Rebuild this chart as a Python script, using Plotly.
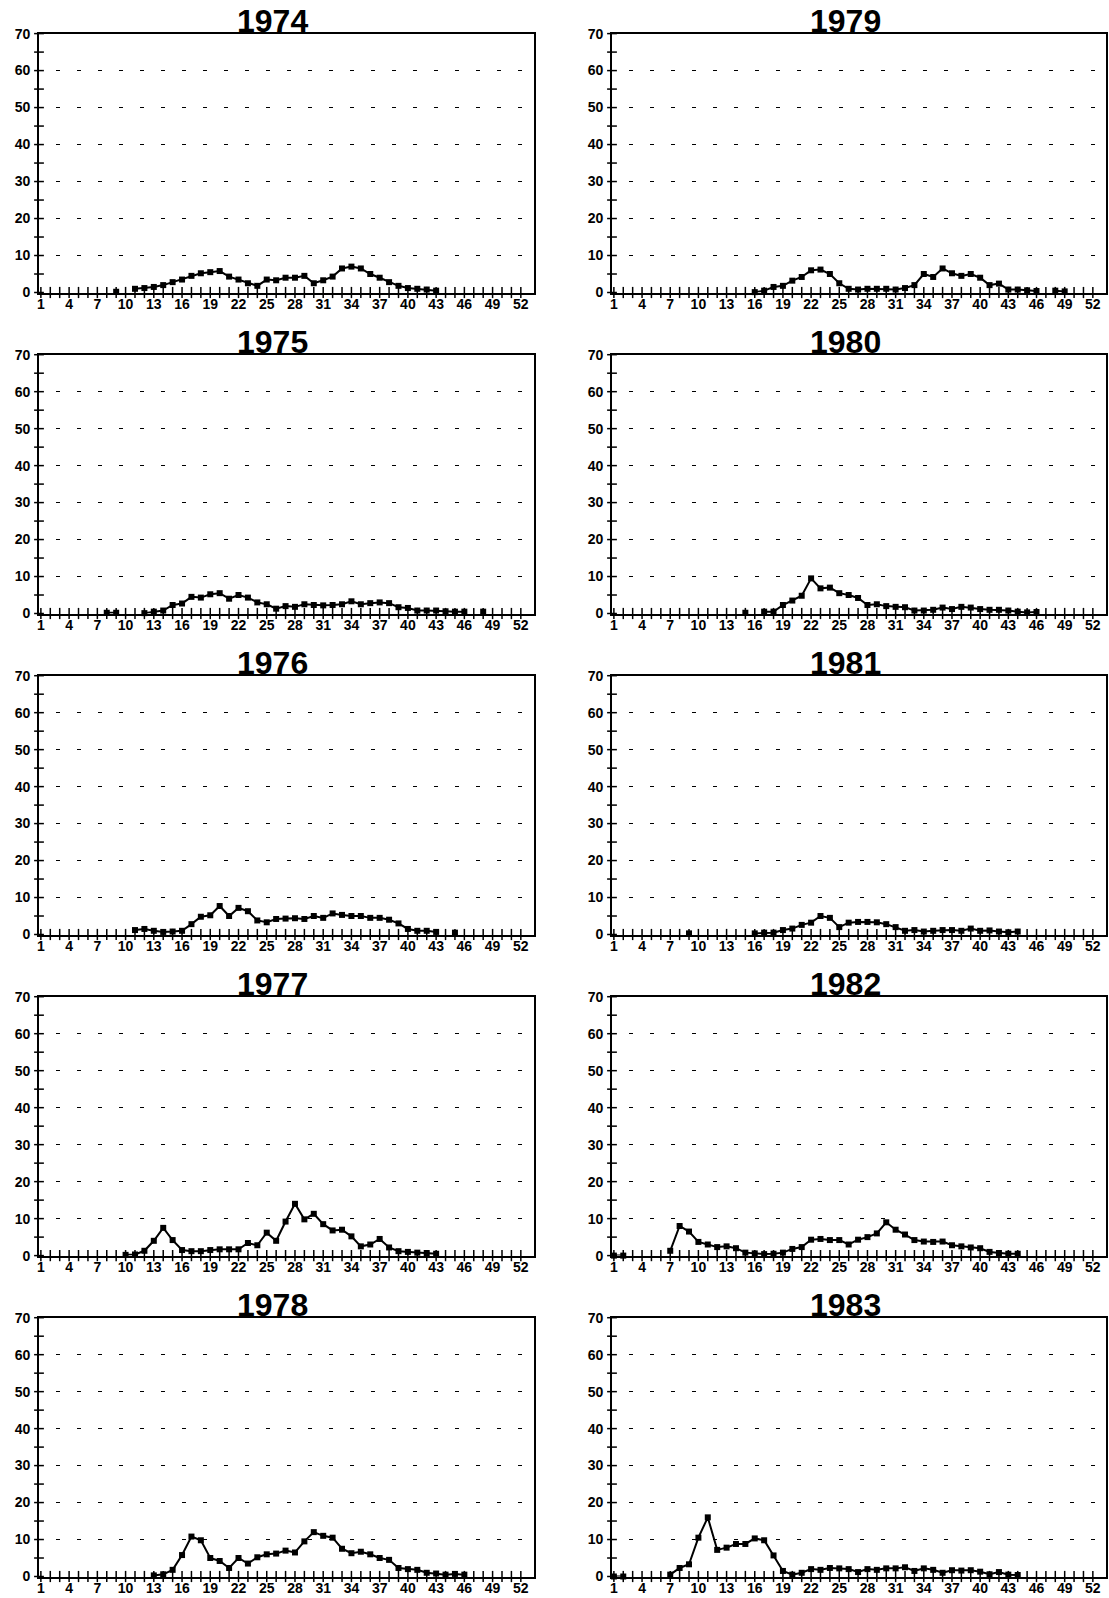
import plotly.graph_objects as go

# ---------------- data (weekly values, None = no observation) ----------------
years_left = ["1974", "1975", "1976", "1977", "1978"]
years_right = ["1979", "1980", "1981", "1982", "1983"]

start_1974 = 9
vals_1974 = [0.2, None, 1.0, 1.2, 1.5, 2.0, 2.8, 3.5, 4.5, 5.2, 5.5, 5.8, 4.3, 3.5, 2.5, 1.8,
             3.5, 3.3, 4.0, 4.0, 4.5, 2.5, 3.3, 4.3, 6.5, 7.0, 6.5, 5.0, 4.0, 2.8, 1.8, 1.2,
             1.0, 0.8, 0.5]

start_1975 = 8
vals_1975 = [0.2, 0.2, None, None, 0.1, 0.5, 0.8, 2.3, 2.7, 4.5, 4.3, 5.2, 5.5, 4.0, 5.0, 4.3,
             3.0, 2.5, 1.3, 2.0, 1.8, 2.5, 2.3, 2.2, 2.3, 2.5, 3.3, 2.5, 2.8, 3.0, 2.8, 1.7,
             1.5, 0.8, 0.8, 0.8, 0.6, 0.5, 0.5, None, 0.5]

start_1976 = 11
vals_1976 = [1.2, 1.5, 1.0, 0.7, 0.8, 1.0, 2.8, 4.8, 5.2, 7.7, 5.0, 7.2, 6.3, 3.8, 3.3, 4.2,
             4.3, 4.4, 4.2, 5.0, 4.5, 5.7, 5.3, 5.0, 5.0, 4.5, 4.5, 4.0, 3.0, 1.5, 1.0, 1.0,
             0.7, None, 0.5]

start_1977 = 10
vals_1977 = [0.2, 0.3, 1.3, 4.0, 7.5, 4.2, 1.5, 1.2, 1.2, 1.5, 1.7, 1.7, 1.7, 3.4, 2.8, 6.2,
             4.0, 9.2, 14.0, 9.8, 11.3, 8.5, 6.8, 7.0, 5.2, 2.5, 3.0, 4.5, 2.2, 1.2, 1.0, 0.8,
             0.7, 0.5]

start_1978 = 13
vals_1978 = [0.3, 0.6, 1.8, 5.8, 10.8, 9.8, 5.0, 4.2, 2.3, 5.0, 3.5, 5.2, 6.0, 6.2, 7.0, 6.5,
             9.5, 12.0, 11.0, 10.5, 7.5, 6.3, 6.7, 6.0, 5.0, 4.5, 2.3, 2.0, 1.8, 1.0, 0.8, 0.5,
             0.7, 0.5]

start_1979 = 16
vals_1979 = [0.1, 0.5, 1.5, 1.8, 3.2, 4.2, 6.0, 6.2, 5.0, 2.5, 1.0, 0.8, 1.0, 1.0, 1.0, 0.8,
             1.2, 2.0, 5.0, 4.2, 6.5, 5.2, 4.5, 5.0, 4.0, 2.0, 2.4, 0.8, 0.8, 0.6, 0.4, None,
             0.5, 0.3]

start_1980 = 15
vals_1980 = [0.2, None, 0.5, 0.5, 2.3, 3.5, 4.8, 9.5, 6.8, 7.0, 5.5, 5.0, 4.2, 2.3, 2.5, 2.0,
             1.8, 1.7, 0.8, 0.8, 1.0, 1.6, 1.2, 1.8, 1.6, 1.2, 1.0, 1.0, 0.8, 0.5, 0.3, 0.4]

start_1981 = 9
vals_1981 = [0.3, None, None, None, None, None, None, 0.3, 0.5, 0.5, 1.2, 1.6, 2.6, 3.2, 5.0,
             4.5, 2.0, 3.2, 3.4, 3.4, 3.3, 2.8, 2.0, 1.0, 1.2, 0.8, 1.0, 1.2, 1.2, 1.0, 1.6,
             1.0, 1.1, 0.8, 0.6, 0.8]

start_1982 = 1
vals_1982 = [0.0, 0.0, None, None, None, None, 1.3, 8.0, 6.5, 3.7, 3.0, 2.3, 2.5, 2.0, 0.8,
             0.6, 0.4, 0.5, 0.8, 1.8, 2.3, 4.3, 4.5, 4.2, 4.2, 3.0, 4.3, 5.0, 6.0, 9.0, 7.0,
             5.7, 4.2, 3.8, 3.7, 3.8, 2.8, 2.5, 2.2, 2.0, 1.0, 0.7, 0.5, 0.5]

start_1983 = 1
vals_1983 = [0.0, 0.0, None, None, None, None, 0.5, 2.3, 3.3, 10.5, 16.0, 7.2, 7.8, 8.8, 8.8,
             10.3, 9.8, 5.7, 1.5, 0.5, 1.0, 2.0, 1.8, 2.3, 2.2, 2.0, 1.2, 2.0, 1.8, 2.2, 2.2,
             2.5, 1.5, 2.2, 1.8, 1.0, 1.7, 1.6, 1.7, 1.3, 0.6, 1.2, 0.5, 0.4]

series = {
    "1974": (start_1974, vals_1974), "1975": (start_1975, vals_1975),
    "1976": (start_1976, vals_1976), "1977": (start_1977, vals_1977),
    "1978": (start_1978, vals_1978), "1979": (start_1979, vals_1979),
    "1980": (start_1980, vals_1980), "1981": (start_1981, vals_1981),
    "1982": (start_1982, vals_1982), "1983": (start_1983, vals_1983),
}

weeks = list(range(1, 53))
week_labels = [str(w) if (w - 1) % 3 == 0 else "" for w in weeks]
y_ticks = [0, 10, 20, 30, 40, 50, 60, 70]
y_small = [0, 5, 10, 15, 20, 25, 30, 35, 40, 45, 50, 55, 60, 65, 70]

# ---------------- layout geometry ----------------
W, H = 1109, 1598
row_top = [33.6, 354.7, 675.7, 996.7, 1317.7]
row_bot = [292.5, 613.5, 934.5, 1255.6, 1576.5]
col_x = [(39, 534), (612, 1106)]
X_RANGE = [0.8, 53.4]

FONT = "Liberation Sans, Arial, sans-serif"

fig = go.Figure()
layout = dict(
    template="none",
    width=W, height=H, autosize=False,
    margin=dict(l=0, r=0, t=0, b=0, pad=0, autoexpand=False),
    paper_bgcolor="white", plot_bgcolor="white",
    showlegend=False,
    font=dict(family=FONT, color="black"),
)
annotations = []

panels = [(y, 0, r) for r, y in enumerate(years_left)] + [(y, 1, r) for r, y in enumerate(years_right)]

for i, (year, col, row) in enumerate(panels):
    n = i + 1
    xa = "x" if n == 1 else f"x{n}"
    ya = "y" if n == 1 else f"y{n}"
    xd = [col_x[col][0] / W, col_x[col][1] / W]
    yd = [1 - row_bot[row] / H, 1 - row_top[row] / H]

    start, vals = series[year]
    xs = list(range(start, start + len(vals)))

    # tick "+" marks along the x axis
    fig.add_trace(go.Scatter(
        x=weeks, y=[0] * len(weeks), mode="markers", xaxis=xa, yaxis=ya,
        marker=dict(symbol="line-ns-open", size=8, color="black",
                    line=dict(width=1.5, color="black")),
        cliponaxis=False, hoverinfo="skip"))
    # tick "+" marks along the y axis
    fig.add_trace(go.Scatter(
        x=[X_RANGE[0]] * len(y_small), y=y_small, mode="markers", xaxis=xa, yaxis=ya,
        marker=dict(symbol="line-ew-open", size=7, color="black",
                    line=dict(width=1.5, color="black")),
        cliponaxis=False, hoverinfo="skip"))
    # data
    fig.add_trace(go.Scatter(
        x=xs, y=vals, mode="lines+markers", xaxis=xa, yaxis=ya,
        line=dict(color="black", width=2),
        marker=dict(symbol="square", size=6, color="black"),
        connectgaps=False, cliponaxis=False))

    layout["xaxis" if n == 1 else f"xaxis{n}"] = dict(
        domain=xd, anchor=ya, range=X_RANGE, fixedrange=True, automargin=False,
        tickmode="array", tickvals=weeks, ticktext=week_labels,
        ticks="", showgrid=False, zeroline=False,
        showline=True, linecolor="black", linewidth=1.6, mirror=True,
        tickfont=dict(family=FONT, size=14, color="black", weight="bold"),
        ticklabelstandoff=-2,
    )
    layout["yaxis" if n == 1 else f"yaxis{n}"] = dict(
        domain=yd, anchor=xa, range=[0, 70], fixedrange=True, automargin=False,
        tickmode="array", tickvals=y_ticks, ticktext=[str(v) for v in y_ticks],
        ticks="", showgrid=True, gridcolor="black", gridwidth=1.2,
        griddash="0px,17px,4px,0px",
        zeroline=False,
        showline=True, linecolor="black", linewidth=1.6, mirror=True,
        tickfont=dict(family=FONT, size=14, color="black", weight="bold"),
        ticklabelstandoff=4,
    )
    annotations.append(dict(
        text=year, xref="paper", yref="paper",
        x=(xd[0] + xd[1]) / 2, y=yd[1], xanchor="center", yanchor="bottom",
        xshift=-14, yshift=-7, showarrow=False,
        font=dict(family=FONT, size=32, color="black", weight="bold"),
    ))

layout["annotations"] = annotations
fig.update_layout(**layout)

post = (
    "document.documentElement.style.margin='0';"
    "document.body.style.margin='0';"
    "document.documentElement.style.overflow='hidden';"
    "document.body.style.overflow='hidden';"
    "var gd=document.getElementById('{plot_id}');"
    "gd.style.position='fixed';gd.style.top='0px';gd.style.left='0px';"
)
fig.write_html("out.html", config={"displayModeBar": False}, post_script=post)
